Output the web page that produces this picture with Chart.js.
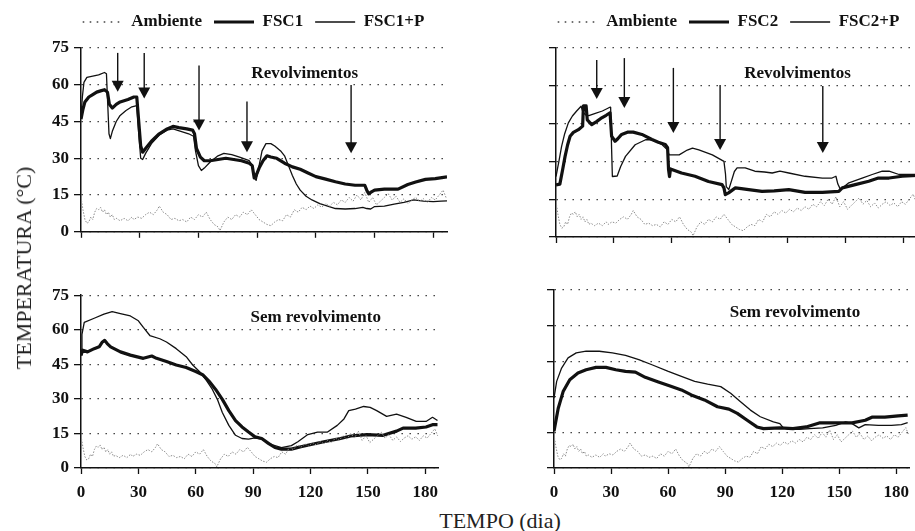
<!DOCTYPE html>
<html><head><meta charset="utf-8">
<script src="https://cdn.jsdelivr.net/npm/chart.js@4.4.1/dist/chart.umd.min.js"></script>
<style>
html,body{margin:0;padding:0;background:#fff;width:915px;height:531px;overflow:hidden;position:relative;font-family:"Liberation Serif",serif}
canvas{position:absolute}
#ytitle{position:absolute;left:24px;top:268px;transform:translate(-50%,-50%) rotate(-90deg);font-size:22px;white-space:nowrap;color:#222}
#xtitle{position:absolute;left:500px;top:521px;transform:translate(-50%,-50%);font-size:22px;white-space:nowrap;color:#222}
</style></head><body>
<canvas id="tl" width="457" height="247" style="left:0;top:0"></canvas>
<canvas id="tr" width="462" height="247" style="left:455px;top:0"></canvas>
<canvas id="bl" width="446" height="228" style="left:0;top:280px"></canvas>
<canvas id="br" width="462" height="228" style="left:455px;top:280px"></canvas>
<div id="ytitle">TEMPERATURA (°C)</div>
<div id="xtitle">TEMPO (dia)</div>
<script>
// ---- tick labels ----
const xTicks = [0, 30, 60, 90, 120, 150, 180];
const yTicks = [0, 15, 30, 45, 60, 75];

// ---- series: [day, °C] ----
const ambiente = [[0,14],[1,9],[2,5],[3,3.5],[4,4],[5,6],[6,5],[7,8],[8,9.5],[9,9],[10,10],[11,8],[12,9],[13,7],[14,8],[15,6],[16,7],[17,5],[18,5.5],[20,4.5],[22,5.5],[24,4.5],[26,6],[27,5],[29,6],[31,5.5],[33,7],[35,8],[37,7],[39,9],[40,10.5],[42,8],[44,7],[46,5],[48,5.5],[50,4.5],[52,5],[54,4],[56,6],[58,5],[60,7],[62,6],[64,8],[66,5],[68,3],[70,2],[71,0.5],[73,4],[75,6],[77,5],[79,7],[81,6],[83,8],[85,7],[87,9],[89,7],[91,5],[93,4],[95,3],[97,2.5],[99,4],[101,5],[103,4.5],[105,7],[107,6],[109,9],[111,8],[113,10],[115,9],[117,10.5],[119,9.5],[121,11],[123,10],[125,11.5],[127,10.5],[129,12],[131,11],[133,13],[135,12],[137,14],[139,12.5],[141,15],[143,13],[145,16],[147,12],[149,14],[151,11],[153,12.5],[155,14],[157,15.5],[159,13],[161,14.5],[163,12],[165,13.5],[167,11.5],[169,13],[171,14],[173,12.5],[175,13.5],[177,12],[179,14],[181,13],[183,15],[185,17],[186.5,14]];

const fsc1Rev = [[0,46],[1,50],[2,53],[4,55],[6,56],[8,57],[10,57.5],[12,58],[13.5,57],[14.5,52],[16,50.5],[18,52],[20,53],[24,54],[27,55],[28.5,55],[29.5,45],[30.5,35],[31.5,32.5],[33,34],[36,37],[40,40],[44,42],[47,43],[50,42.5],[54,42],[57,41.5],[58,40],[59,34],[61,30.5],[63,29],[66,29],[70,29.5],[74,30],[78,29.5],[82,29],[86,28],[87.5,27],[88.5,22],[89.5,23],[91,26],[93,29],[95,31],[97,30.5],[100,30],[104,28],[108,26.5],[112,25.5],[116,24],[120,22.5],[125,21.5],[130,20.4],[135,19.5],[140,19],[145,19],[146,17],[147,15.5],[148.4,16.3],[150,17],[155,17.4],[162,17.4],[167,19.3],[171,20.3],[176,21.4],[181,21.7],[187,22.4]];
const fsc1pRev = [[0,47],[0.7,55],[1.5,61],[3,63],[6,63.5],[9,64],[12,65],[13,64.5],[13.5,55],[14.3,40],[15,38],[16,41],[18,45],[20,47.5],[23,49.5],[26,51],[28.5,51.5],[29.5,40],[30.5,30],[31.5,29.5],[33,32],[36,36],[40,39.5],[44,41.5],[47,42],[51,41],[55,40],[57.5,39],[58.5,33],[60,27],[61.5,25],[63,26],[66,28.5],[70,31],[73,32],[77,31.5],[81,30.5],[86,29],[87.5,27],[88.5,22],[89.5,21],[91,27],[92.5,33],[94.5,36],[97,36],[99,35],[102,33],[104,31],[106,27],[108,23],[110,19.5],[112,17],[115,14.5],[118,13],[122,11.5],[126,10.5],[130,9.5],[135,9.3],[140,9.5],[144,10],[146,9.5],[148,9.3],[150,10.3],[155,10.5],[160,11.3],[165,12],[170,13],[175,12.5],[180,12.3],[184,12.5],[187,12.6]];

const fsc2Rev = [[0,20.7],[2,21],[3.5,27],[4.7,32],[6,36.5],[7.3,40],[9,41.5],[11.6,42.6],[13.8,44],[14.2,52],[15.6,52],[16.2,46.5],[18.5,44.6],[21,45.8],[23.7,47.3],[26,48.3],[28,49.3],[28.8,40],[30.6,38],[32,39],[34,40.7],[37,41.6],[40,41.6],[44.5,40.7],[49.7,38.7],[53,37.6],[56.6,36.7],[57.8,35.4],[58.3,26.8],[58.8,24],[59.3,27],[60,26.8],[65,25.4],[72,24.1],[79,22],[86,20.8],[87,19.5],[87.7,16.8],[89.4,17.5],[92.9,19.5],[96,19.2],[99.8,18.8],[106.7,18.1],[113,18.3],[120.6,18.8],[129,17.7],[138,17.7],[146.5,18.1],[148.3,19.5],[155,20.8],[162,22.1],[167,23.4],[172.5,23.4],[179.4,24.1],[187,24.4]];
const fsc2pRev = [[0,24],[1.5,30],[2.9,36],[4.5,41],[6.4,45.3],[8.5,48],[10.7,50],[13,51.9],[14,49.5],[15.3,48.5],[17,48.2],[20,49],[24,50],[27.4,51.3],[28.3,51.5],[28.8,35],[29.2,24],[31.7,24.2],[33.5,28],[36,32],[41,36.6],[46.4,38.6],[50,38.6],[55,36.6],[57.7,34.6],[58.6,32.6],[63.8,32.6],[68,34.5],[70.7,35.3],[74,34.6],[81,32.6],[87,30],[87.8,25],[88.2,20],[89.5,18.8],[92.4,26],[93.8,27.4],[98,27.4],[103,26.1],[108,25.8],[112,25.4],[116,26.1],[120.6,25.4],[129,24.1],[138,23.4],[143,23.4],[145,24.1],[146,21],[147.4,18.8],[151.7,21.5],[158.6,23.4],[163.8,24.8],[169,26.1],[172.5,26.1],[177.7,24.8],[187,24.8]];

const fsc1Sem = [[0,49],[0.9,51.1],[3.4,50.4],[6.9,51.8],[9.5,52.6],[11.2,54.7],[12.4,55.4],[13.7,54],[15.5,52.6],[20.6,50.4],[25.8,49],[32.6,47.6],[37,48.6],[39.5,47.6],[44.7,46.2],[49.8,44.7],[55,43.6],[60,41.9],[63.6,40.5],[67,37.6],[70.4,34.1],[73.9,29.8],[77.3,24.9],[80.8,20.6],[84.2,17.8],[87.6,15.6],[91,13.5],[94.5,12.8],[98,10.7],[101.4,8.9],[104.8,8.2],[110,8.2],[115,9.2],[120.3,10.2],[127,11.4],[135.7,12.8],[141,13.9],[149.5,14.5],[158,14.2],[165,16],[168.4,17.3],[175,17.3],[180.4,17.8],[183.8,18.8],[186.4,18.8]];
const fsc1pSem = [[0,49],[0.5,58],[1.7,63.2],[6.9,65],[12,66.8],[16.3,67.9],[20.6,67],[25.8,66],[30,63.9],[32.6,61],[36,57.5],[41.2,56.1],[44.7,54.7],[49.8,51.8],[55,48.3],[58.4,44.7],[61.9,41.9],[65.3,38.4],[68.7,34.1],[71.3,29.8],[73.9,24.1],[77.3,18.5],[80.8,14.2],[84.2,12.8],[87.6,12.5],[91,13.1],[94.5,12.5],[99.7,10.2],[104.8,8.8],[110,9.7],[113.4,11.4],[118.6,14.5],[123.7,15.6],[128.9,15.6],[134,18.5],[137.5,21.3],[140,24.9],[143.5,25.6],[147.8,26.7],[151.2,26.3],[154.6,24.9],[159.8,22.4],[165,23.4],[170,22],[175.3,20.2],[180.4,20.2],[183.8,22],[186.4,20.6]];

const fsc2Sem = [[0,15.5],[2.2,25.1],[4.8,32.2],[8.3,37.2],[12.6,40],[16.9,41.4],[22.1,42.4],[27.3,42.4],[32.5,41.4],[37.6,40.7],[42.8,40.4],[48,38.2],[54.9,36.2],[61.8,34.3],[67,32.9],[72.2,30.8],[79.1,28.7],[86,25.8],[92,24.8],[96.4,23],[101.6,20.1],[106.7,17.3],[110.2,16.6],[118.8,16.9],[125.7,16.6],[132.6,17.3],[139.5,19],[148.2,19],[156.8,19],[163.7,20.1],[167.2,21.4],[174,21.4],[181,22],[186,22.3]];
const fsc2pSem = [[0,29.4],[1.4,36.5],[4,42.1],[7.4,46.4],[11.7,48.5],[16.9,49.2],[23.8,49.2],[30.7,48.5],[37.6,47.5],[44.6,45.7],[51.5,43.5],[60.1,40.7],[67,38.6],[74,36.5],[80.8,35.3],[87.7,34.3],[92.9,31.5],[98.1,27.9],[103.3,24.4],[108.5,21.6],[115.4,19.4],[118.8,18.7],[120.6,16.9],[124,16.3],[129.2,16.3],[134.4,16.6],[141.3,16.9],[148.2,18],[153.4,19.4],[156.8,18.7],[160.3,16.9],[163.7,18.3],[170.6,18],[177.5,18],[182.7,18.3],[186,19.1]];

// ---- annotations (day, °C) ----
const arrowDaysL = [18.75, 32.3, 60.3, 84.8, 138];
const arrowTopL  = [73, 73, 67.9, 53.2, 59.9];
const arrowTipL  = [57.1, 54.4, 41.3, 32.5, 32.1];
const arrowDaysR = [21.1, 35.4, 60.8, 85, 138.2];
const arrowTopR  = [70.2, 71, 67.1, 60.3, 59.9];
const arrowTipR  = [54.8, 51.2, 41.3, 34.5, 33.3];

const INK = '#111';
const SERIF = '"Liberation Serif", "Times New Roman", serif';
Chart.defaults.font.family = SERIF;
Chart.defaults.color = INK;

const notesPlugin = {
  id: 'panelNotes',
  afterDatasetsDraw(chart, args, o) {
    const {ctx, scales: {x, y}} = chart;
    ctx.save();
    ctx.fillStyle = INK; ctx.strokeStyle = INK;
    const days = o.days || [];
    days.forEach((d, i) => {
      const px = x.getPixelForValue(d);
      const y0 = y.getPixelForValue(o.tops[i]);
      const y1 = y.getPixelForValue(o.tips[i]);
      ctx.lineWidth = 1.4;
      ctx.beginPath(); ctx.moveTo(px, y0); ctx.lineTo(px, y1 - 10); ctx.stroke();
      ctx.beginPath(); ctx.moveTo(px - 6, y1 - 11); ctx.lineTo(px + 6, y1 - 11); ctx.lineTo(px, y1); ctx.closePath(); ctx.fill();
    });
    if (o.text) {
      ctx.font = 'bold 17px ' + SERIF;
      ctx.textAlign = 'center'; ctx.textBaseline = 'middle';
      ctx.fillText(o.text, x.getPixelForValue(o.textDay), y.getPixelForValue(o.textTemp));
    }
    ctx.restore();
  }
};
Chart.register(notesPlugin);

const pts = arr => arr.map(p => ({x: p[0], y: p[1]}));

function datasets(names, thick, thin) {
  return [
    {label: names[0], data: pts(ambiente), borderColor: '#8c8c8c', borderWidth: 1, borderDash: [1.5, 1.5],
     legendColor: '#444', legendWidth: 1.6, legendDash: [1.6, 5.4]},
    {label: names[1], data: pts(thick), borderColor: INK, borderWidth: 3.2},
    {label: names[2], data: pts(thin), borderColor: INK, borderWidth: 1.3}
  ];
}

function makeChart(id, cfg) {
  const tickFont = {family: SERIF, size: 17, weight: 'bold'};
  return new Chart(document.getElementById(id), {
    type: 'line',
    data: {datasets: cfg.datasets},
    options: {
      responsive: false, animation: false, devicePixelRatio: 1,
      layout: {padding: cfg.padding},
      elements: {point: {radius: 0}, line: {tension: 0, borderJoinStyle: 'round'}},
      plugins: {
        tooltip: {enabled: false},
        legend: cfg.legend ? {
          display: true, position: 'top', align: 'center',
          labels: {
            usePointStyle: true, pointStyle: 'line', pointStyleWidth: 40, padding: 12,
            color: INK, font: tickFont,
            generateLabels: chart => chart.data.datasets.map((ds, i) => ({
              text: ds.label, fillStyle: 'rgba(0,0,0,0)', strokeStyle: ds.legendColor || ds.borderColor,
              lineWidth: ds.legendWidth || ds.borderWidth, lineDash: ds.legendDash || [], lineCap: 'butt',
              pointStyle: 'line', hidden: false, datasetIndex: i, fontColor: INK
            }))
          }
        } : {display: false},
        subtitle: cfg.legend ? {display: true, text: '', weight: 500, font: {size: 1, lineHeight: 1}, padding: {top: 0, bottom: 6.5}} : {display: false},
        panelNotes: cfg.notes
      },
      scales: {
        x: {
          type: 'linear', min: 0, max: 187,
          afterBuildTicks: s => { s.ticks = xTicks.map(v => ({value: v})); },
          afterFit: s => { s.height = cfg.xh; if (cfg.xpr) s.paddingRight = cfg.xpr; },
          grid: {drawOnChartArea: false, drawTicks: true, tickLength: 6, color: INK, tickWidth: 1.3},
          border: {display: true, color: INK, width: 1.5},
          ticks: {display: cfg.xLabels, font: tickFont, color: INK, padding: 8, maxRotation: 0}
        },
        y: {
          type: 'linear', min: 0, max: 75,
          afterBuildTicks: s => { s.ticks = yTicks.map(v => ({value: v})); },
          afterFit: s => { s.width = cfg.yw; },
          grid: {drawOnChartArea: true, drawTicks: true, tickLength: 7, color: '#333', lineWidth: 1.3,
                 tickColor: INK, tickWidth: 1.3, tickBorderDash: []},
          border: {display: true, color: INK, width: 1.5, dash: [1.4, 6.6]},
          ticks: {display: cfg.yLabels, font: tickFont, color: INK, padding: 5}
        }
      }
    }
  });
}

makeChart('tl', {
  datasets: datasets(['Ambiente', 'FSC1', 'FSC1+P'], fsc1Rev, fsc1pRev),
  padding: {left: 50, right: 0, top: 1.5, bottom: 0}, yw: 31, xh: 10, xpr: 10,
  legend: true, xLabels: false, yLabels: true,
  notes: {days: arrowDaysL, tops: arrowTopL, tips: arrowTipL, text: 'Revolvimentos', textDay: 114.3, textTemp: 64.7}
});
makeChart('tr', {
  datasets: datasets(['Ambiente', 'FSC2', 'FSC2+P'], fsc2Rev, fsc2pRev),
  padding: {left: 85, right: 0, top: 1.5, bottom: 0}, yw: 16, xh: 10,
  legend: true, xLabels: false, yLabels: false,
  notes: {days: arrowDaysR, tops: arrowTopR, tips: arrowTipR, text: 'Revolvimentos', textDay: 125.1, textTemp: 64.7}
});
makeChart('bl', {
  datasets: datasets(['Ambiente', 'FSC1', 'FSC1+P'], fsc1Sem, fsc1pSem),
  padding: {left: 0, right: 0, top: 12, bottom: 0}, yw: 81, xh: 40,
  legend: false, xLabels: true, yLabels: true,
  notes: {text: 'Sem revolvimento', textDay: 122.7, textTemp: 65.4}
});
makeChart('br', {
  datasets: datasets(['Ambiente', 'FSC2', 'FSC2+P'], fsc2Sem, fsc2pSem),
  padding: {left: 0, right: 0, top: 10, bottom: 0}, yw: 99, xh: 40,
  legend: false, xLabels: true, yLabels: false,
  notes: {text: 'Sem revolvimento', textDay: 126.7, textTemp: 65.4}
});
</script>
</body></html>
